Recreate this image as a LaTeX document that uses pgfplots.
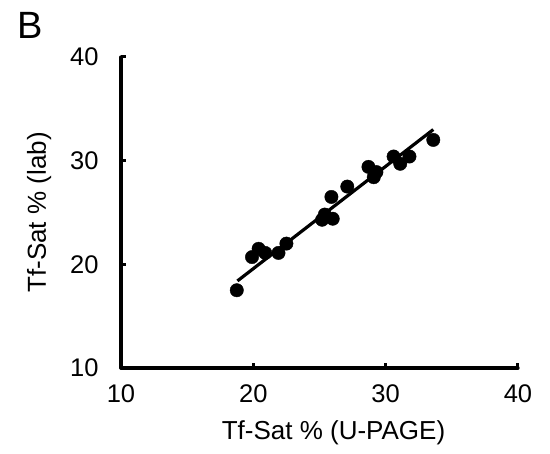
\documentclass[border=0pt]{standalone}
\usepackage{pgfplots}
\pgfplotsset{compat=1.18}
\usepackage{fontspec}
\setmainfont{Liberation Sans}

\begin{document}
\begin{tikzpicture}
    \useasboundingbox (-121pt,-86pt) rectangle (429pt,368pt);
    \begin{axis}[
        at={(0,0)}, anchor=south west,
        scale only axis,
        width=397pt, height=311pt,
        xmin=10, xmax=40, ymin=10, ymax=40,
        xtick={10,20,30,40}, ytick={10,20,30,40},
        axis lines=left,
        axis line style={-, line width=3.3pt, line cap=round},
        tick align=inside,
        major tick length=5pt,
        tick style={line width=3pt, black},
        ticklabel style={font=\fontsize{25.5}{29}\selectfont},
        /pgf/number format/assume math mode=true,
        xticklabel style={yshift=-13pt},
        yticklabel style={xshift=-19pt},
        xlabel={Tf-Sat \% (U-PAGE)},
        ylabel={Tf-Sat \% (lab)},
        label style={font=\fontsize{26}{30}\selectfont},
        xlabel style={yshift=-11pt, xshift=14pt},
        ylabel style={yshift=12pt},
        clip=false,
    ]
        % regression line
        \addplot[black, line width=3.2pt, no marks] coordinates {
            (18.8,18.4) (33.6,33.0)
        };
        % measurements
        \addplot[only marks, mark=*, mark size=6.7pt, black] coordinates {
            (18.75,17.5)
            (19.9,20.7)
            (20.4,21.5)
            (20.9,21.1)
            (21.9,21.1)
            (22.5,22.0)
            (25.2,24.3)
            (25.4,24.8)
            (26.0,24.4)
            (25.9,26.5)
            (27.1,27.5)
            (28.7,29.4)
            (29.1,28.4)
            (29.3,28.9)
            (30.6,30.4)
            (31.1,29.7)
            (31.8,30.4)
            (33.6,32.0)
        };
    \end{axis}
    \node[font=\fontsize{38}{42}\selectfont] at (-91pt,343pt) {B};
\end{tikzpicture}
\end{document}
